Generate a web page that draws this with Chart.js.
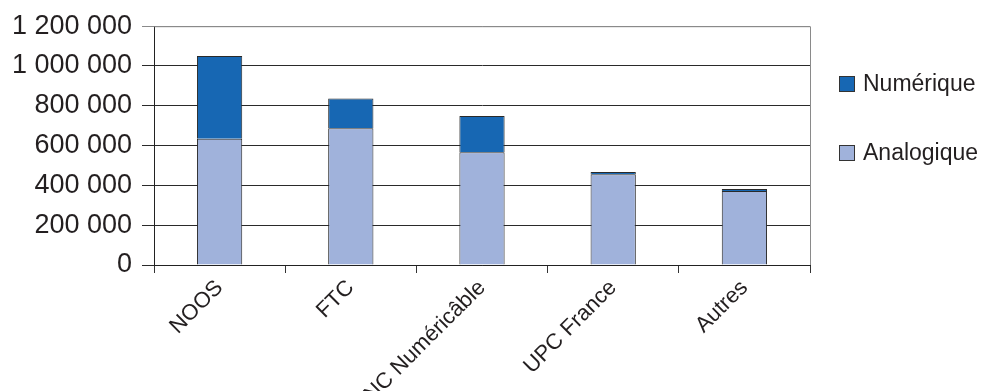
<!DOCTYPE html>
<html lang="fr">
<head>
    <meta charset="UTF-8">
    <title>Abonnés câble</title>
    <script src="https://cdn.jsdelivr.net/npm/chart.js"></script>
    <style>
        body { margin: 0; background: #fff; font-family: "Liberation Sans", Arial, sans-serif; }
        #wrap { position: relative; width: 982px; height: 391px; }
        .leg { position: absolute; left: 839px; font-size: 23px; color: #231f20; line-height: 1; white-space: nowrap; }
        .leg span { display: inline-block; width: 14px; height: 14px; border: 1px solid #333; margin-right: 8px; vertical-align: -1px; }
    </style>
</head>
<body>
    <div id="wrap">
        <canvas id="myChart"></canvas>
        <div class="leg" id="leg0" style="top:72px"><span></span>Numérique</div>
        <div class="leg" id="leg1" style="top:141px"><span></span>Analogique</div>
    </div>

    <script>
        const categories = ['NOOS', 'FTC', 'NC Numéricâble', 'UPC France', 'Autres'];
        const analogique = [635000, 687000, 566000, 456000, 372000];
        const numerique = [415000, 150000, 183000, 11000, 10000];
        const seriesNames = ['Analogique', 'Numérique'];
        const seriesColors = ['#a0b2db', '#1767b3'];

        document.querySelector('#leg0 span').style.background = seriesColors[1];
        document.querySelector('#leg1 span').style.background = seriesColors[0];

        const fmt = v => String(v).replace(/\B(?=(\d{3})+(?!\d))/g, ' ');

        // grey border on top/right of the plot
        const frame = {
            id: 'frame',
            afterDraw(chart) {
                const a = chart.chartArea, ctx = chart.ctx;
                ctx.save();
                ctx.strokeStyle = '#8a8a8a';
                ctx.lineWidth = 1;
                ctx.beginPath();
                ctx.moveTo(a.left, a.top + 0.5);
                ctx.lineTo(a.right + 0.5, a.top + 0.5);
                ctx.lineTo(a.right + 0.5, a.bottom);
                ctx.stroke();
                ctx.restore();
            }
        };

        new Chart(document.getElementById('myChart'), {
            type: 'bar',
            data: {
                labels: categories,
                datasets: [
                    { label: seriesNames[0], data: analogique, backgroundColor: seriesColors[0], borderColor: '#2a2a2a', borderWidth: 1, barPercentage: 0.69, categoryPercentage: 0.5 },
                    { label: seriesNames[1], data: numerique, backgroundColor: seriesColors[1], borderColor: '#2a2a2a', borderWidth: 1, barPercentage: 0.69, categoryPercentage: 0.5 }
                ]
            },
            options: {
                responsive: true,
                maintainAspectRatio: false,
                animation: false,
                layout: { padding: { top: 26, right: 172, left: 0, bottom: 0 } },
                plugins: { legend: { display: false }, tooltip: { enabled: false } },
                scales: {
                    x: {
                        stacked: true,
                        afterFit: s => { s.height = 126; },
                        grid: { drawOnChartArea: false, tickLength: 8, color: '#333' },
                        border: { color: '#222' },
                        ticks: { minRotation: 45, maxRotation: 45, color: '#231f20', font: { family: 'Liberation Sans', size: 22 }, padding: 2 }
                    },
                    y: {
                        stacked: true,
                        min: 0,
                        max: 1200000,
                        afterFit: s => { s.width = 154; },
                        grid: { tickLength: 12, color: ctx => ctx.tick && ctx.tick.value === 1200000 ? '#8a8a8a' : '#2a2a2a' },
                        border: { color: '#222' },
                        ticks: { stepSize: 200000, padding: 10, color: '#231f20', font: { family: 'Liberation Sans', size: 27 }, callback: v => fmt(v) }
                    }
                }
            },
            plugins: [frame]
        });
    </script>
</body>
</html>
